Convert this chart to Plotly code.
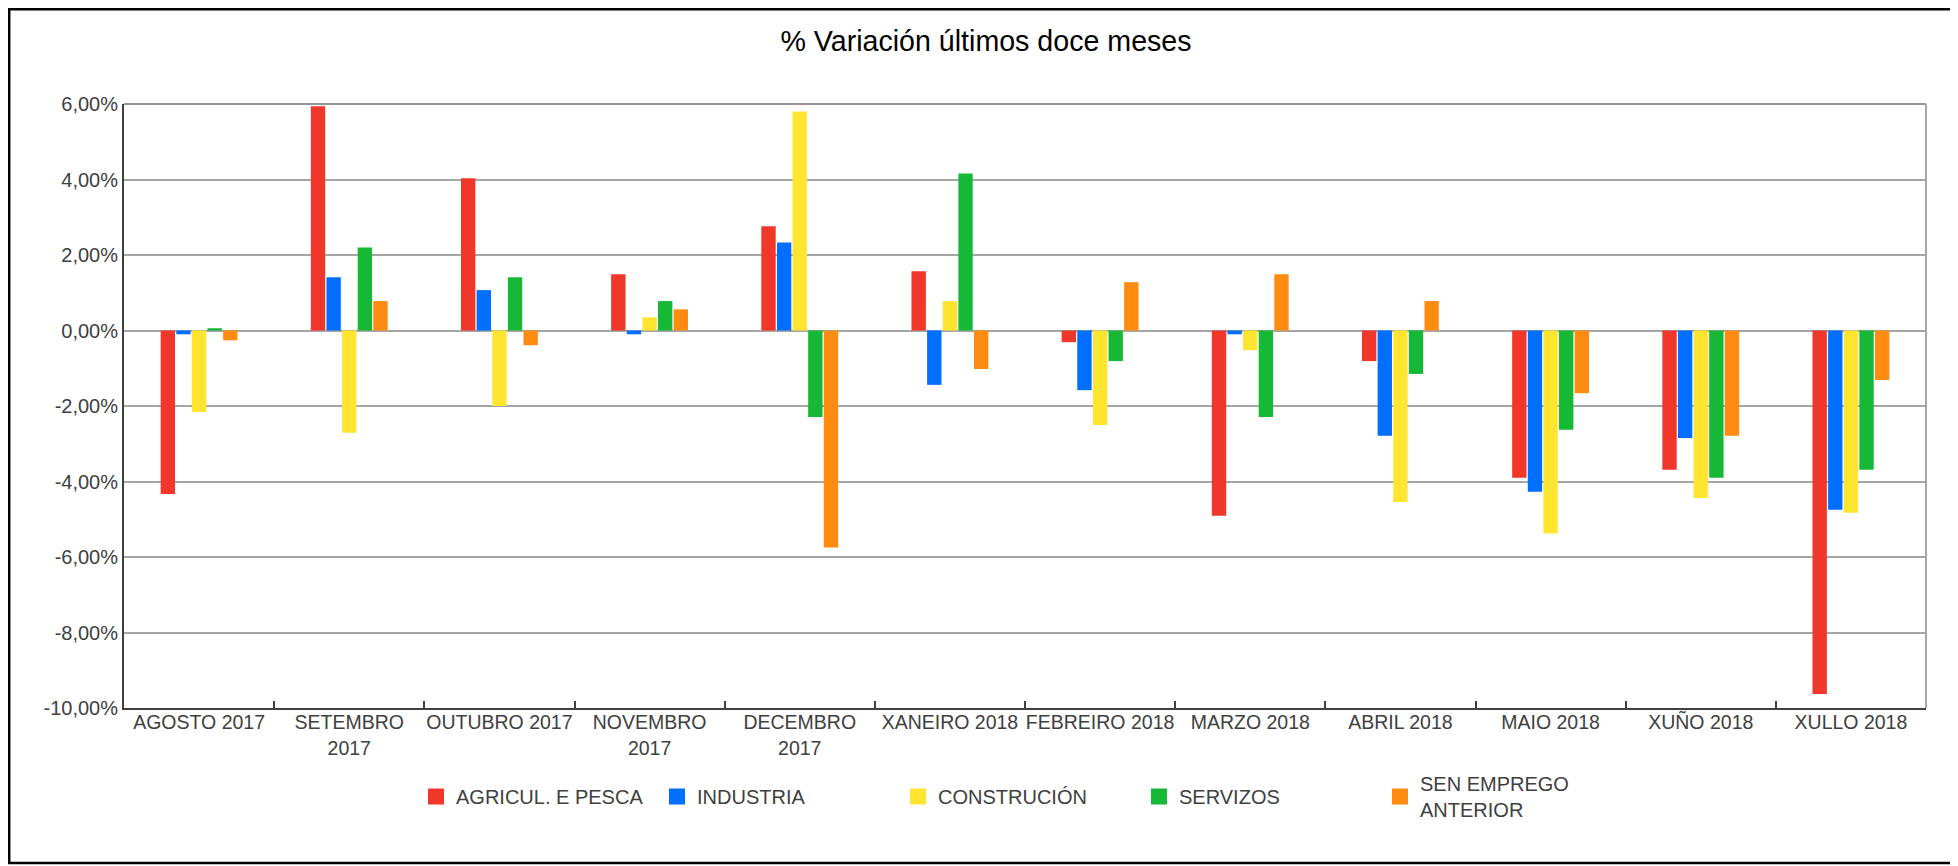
import plotly.graph_objects as go

# ---- data ----
months = ["AGOSTO 2017", "SETEMBRO<br>2017", "OUTUBRO 2017", "NOVEMBRO<br>2017",
          "DECEMBRO<br>2017", "XANEIRO 2018", "FEBREIRO 2018", "MARZO 2018",
          "ABRIL 2018", "MAIO 2018", "XUÑO 2018", "XULLO 2018"]
agricul = [-4.33, 5.94, 4.03, 1.49, 2.76, 1.57, -0.31, -4.91, -0.81, -3.90, -3.69, -9.63]
industria = [-0.10, 1.41, 1.07, -0.10, 2.33, -1.44, -1.58, -0.10, -2.79, -4.27, -2.85, -4.75]
construcion = [-2.16, -2.71, -2.00, 0.35, 5.80, 0.78, -2.50, -0.52, -4.54, -5.38, -4.44, -4.83]
servizos = [0.06, 2.20, 1.41, 0.78, -2.29, 4.16, -0.81, -2.29, -1.15, -2.63, -3.90, -3.69]
sen_emprego = [-0.26, 0.78, -0.39, 0.56, -5.75, -1.02, 1.28, 1.49, 0.78, -1.66, -2.79, -1.31]

series_names = ["AGRICUL. E PESCA", "INDUSTRIA", "CONSTRUCIÓN", "SERVIZOS", "SEN EMPREGO<br>ANTERIOR"]
series_values = [agricul, industria, construcion, servizos, sen_emprego]
series_colors = ["#F1372A", "#006FFF", "#FFE530", "#17B835", "#FF8B10"]
series_legends = ["legend", "legend", "legend", "legend", "legend2"]

ytick_vals = [-10, -8, -6, -4, -2, 0, 2, 4, 6]
ytick_text = ["-10,00%", "-8,00%", "-6,00%", "-4,00%", "-2,00%", "0,00%", "2,00%", "4,00%", "6,00%"]

title_text = "% Variación últimos doce meses"

# ---- geometry (page pixels; the page body has an 8px margin) ----
OFF = 8
W, H = 1958 - OFF, 866 - OFF
PL, PR, PT, PB = 124, 1926, 104, 708          # plot area in page pixels
L, T = PL - OFF, PT - OFF
R, B = W - (PR - OFF), H - (PB - OFF)
PW, PH = W - L - R, H - T - B


def px_x(px):
    return (px - OFF - L) / PW


def px_y(py):
    return (PB - py) / PH


FONT = "Arial, Liberation Sans, sans-serif"

fig = go.Figure()
for name, vals, col in zip(series_names, series_values, series_colors):
    fig.add_trace(go.Bar(x=months, y=vals, name=name, showlegend=False,
                         marker=dict(color=col, line=dict(width=0))))

# legend entries: square swatches like the original
for name, col, lg in zip(series_names, series_colors, series_legends):
    fig.add_trace(go.Scatter(x=[months[0]], y=[None], name=name, mode="markers",
                             marker=dict(symbol="square", size=16, color=col, line=dict(width=0)),
                             legend=lg, hoverinfo="skip"))

fig.update_layout(
    width=W, height=H, autosize=False,
    margin=dict(l=L, r=R, t=T, b=B, pad=0),
    paper_bgcolor="white", plot_bgcolor="white",
    barmode="group", bargap=0.48, bargroupgap=0.08,
    font=dict(family=FONT, size=19, color="#404040"),
    title=dict(text=title_text, x=(986 - OFF) / W, xref="container", xanchor="center",
               y=1 - (41 - OFF) / H, yref="container", yanchor="middle",
               font=dict(family=FONT, size=28.6, color="#000000")),
    legend=dict(orientation="h", x=px_x(416), xanchor="left", y=px_y(777), yanchor="top",
                entrywidthmode="pixels", entrywidth=196,
                font=dict(family=FONT, size=20, color="#404040"), bgcolor="rgba(0,0,0,0)",
                traceorder="normal"),
    legend2=dict(orientation="h", x=px_x(1380), xanchor="left", y=px_y(764), yanchor="top",
                 font=dict(family=FONT, size=20, color="#404040"), bgcolor="rgba(0,0,0,0)"),
    showlegend=True,
)

fig.update_xaxes(type="category", categoryorder="array", categoryarray=months,
                 range=[-0.5, len(months) - 0.5], autorange=False,
                 showline=True, linecolor="#404040", linewidth=2,
                 ticks="inside", tickson="boundaries", ticklen=7, tickwidth=1.5,
                 tickcolor="#404040", showgrid=False, tickangle=0, ticklabelstandoff=-4,
                 tickfont=dict(family=FONT, size=19.5, color="#404040"))
fig.update_yaxes(range=[-10, 6], autorange=False, tickvals=ytick_vals, ticktext=ytick_text,
                 showgrid=True, gridcolor="#A6A6A6", gridwidth=1.5,
                 zeroline=True, zerolinecolor="#A6A6A6", zerolinewidth=2,
                 showline=True, linecolor="#404040", linewidth=2, ticks="",
                 tickfont=dict(family=FONT, size=20, color="#404040"))

# plot-area top and right borders (gray)
fig.add_shape(type="line", xref="paper", yref="paper", x0=0, x1=1, y0=1, y1=1,
              line=dict(color="#959595", width=2), layer="below")
fig.add_shape(type="line", xref="paper", yref="paper", x0=1, x1=1, y0=0, y1=1,
              line=dict(color="#A6A6A6", width=2), layer="below")
# outer black frame
fig.add_shape(type="rect", xref="paper", yref="paper",
              x0=px_x(9.2), x1=px_x(1952), y0=px_y(863), y1=px_y(9.2),
              line=dict(color="#000000", width=2.5), fillcolor="rgba(0,0,0,0)", layer="above")

fig.write_html("out.html")
